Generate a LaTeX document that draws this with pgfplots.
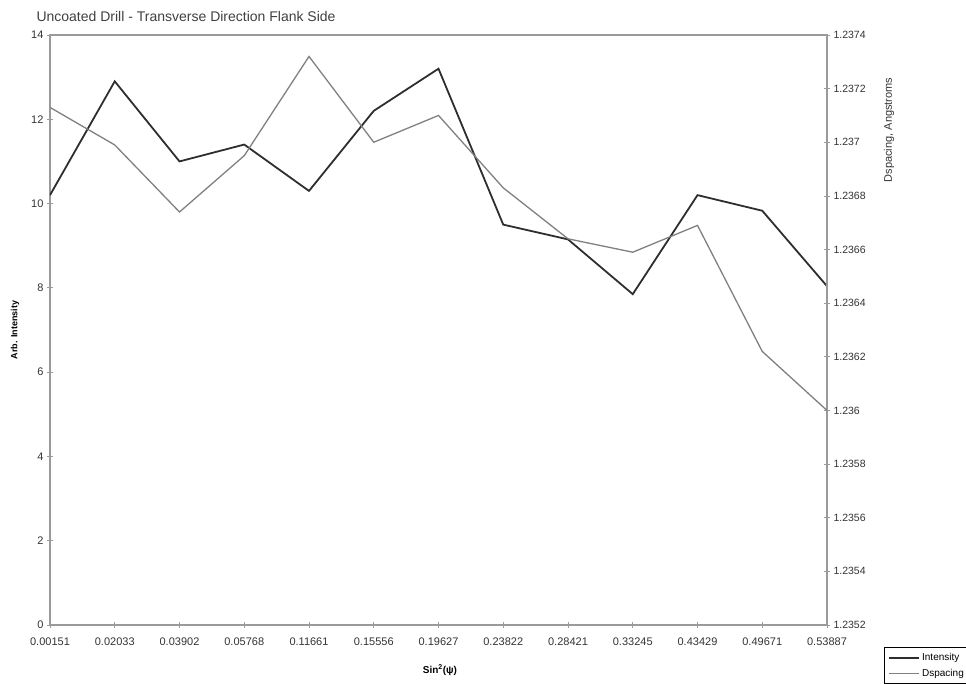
\documentclass[border=0pt]{standalone}
\usepackage{pgfplots}
\pgfplotsset{compat=1.18}
\usepackage{fontspec}
\setmainfont{Liberation Sans}
\definecolor{axgray}{HTML}{9A9A9A}
\definecolor{intcol}{HTML}{2E2E2E}
\definecolor{dspcol}{HTML}{808080}
\pgfplotstableread{
x int
0 10.2
1 12.9
2 11.0
3 11.4
4 10.3
5 12.2
6 13.2
7 9.5
8 9.15
9 7.85
10 10.2
11 9.83
12 8.04
}\intdata
\pgfplotstableread{
x dsp
0 1.23713
1 1.23699
2 1.23674
3 1.23695
4 1.23732
5 1.23700
6 1.23710
7 1.23683
8 1.23664
9 1.23659
10 1.23669
11 1.23622
12 1.23600
}\dspdata
\begin{document}
\begin{tikzpicture}[x=1pt,y=1pt]
\useasboundingbox (0,0) rectangle (966,684);
\begin{axis}[
  at={(50pt,59pt)}, anchor=south west, scale only axis,
  width=777pt, height=590pt,
  xmin=0, xmax=12, ymin=0, ymax=14,
  xtick={0,...,12},
  xticklabels={0.00151,0.02033,0.03902,0.05768,0.11661,0.15556,0.19627,0.23822,0.28421,0.33245,0.43429,0.49671,0.53887},
  ytick={0,2,...,14},
  xtick pos=bottom, ytick pos=left,
  tick align=center,
  major tick length=6pt,
  /pgf/number format/assume math mode=true,
  axis line style={axgray, line width=1.2pt},
  tick style={axgray, line width=0.8pt},
  ticklabel style={font=\fontsize{11}{13}\selectfont, text=black!80},
  xticklabel style={yshift=-6pt},
]
\addplot[intcol, line width=1.8pt] table[x=x,y=int] {\intdata};
\end{axis}
\begin{axis}[
  at={(50pt,59pt)}, anchor=south west, scale only axis,
  width=777pt, height=590pt,
  xmin=0, xmax=12, ymin=1.2352, ymax=1.2374,
  axis x line=none, axis y line*=right,
  ytick={1.2352,1.2354,1.2356,1.2358,1.236,1.2362,1.2364,1.2366,1.2368,1.237,1.2372,1.2374},
  yticklabel style={/pgf/number format/.cd, fixed, precision=4, assume math mode=true},
  scaled y ticks=false,
  tick align=center,
  major tick length=6pt,
  axis line style={axgray, line width=1.2pt},
  tick style={axgray, line width=0.8pt},
  ticklabel style={font=\fontsize{10.5}{13}\selectfont, text=black!80},
  legend style={at={(1.0734,-0.0373)}, anchor=north west, draw=black, line width=0.6pt,
    font=\fontsize{10}{12}\selectfont, row sep=3pt, inner sep=4pt},
  legend cell align=left,
  legend image code/.code={\draw[#1] (0pt,0pt) -- (30pt,0pt);},
]
\addlegendimage{intcol, line width=1.8pt}
\addlegendentry{Intensity}
\addplot[dspcol, line width=1.3pt] table[x=x,y=dsp] {\dspdata};
\addlegendentry{Dspacing}
\end{axis}
\node[anchor=west, font=\fontsize{14}{16}\selectfont, text=black!75] at (33,667) {Uncoated Drill - Transverse Direction Flank Side};
\node[rotate=90, font=\bfseries\fontsize{9}{11}\selectfont] at (15,354) {Arb. Intensity};
\node[rotate=90, font=\fontsize{11}{13}\selectfont, text=black!80] at (889,554) {Dspacing, Angstroms};
\node[font=\bfseries\fontsize{10}{12}\selectfont] at (440,14) {Sin\textsuperscript{2}(ψ)};
\end{tikzpicture}
\end{document}
